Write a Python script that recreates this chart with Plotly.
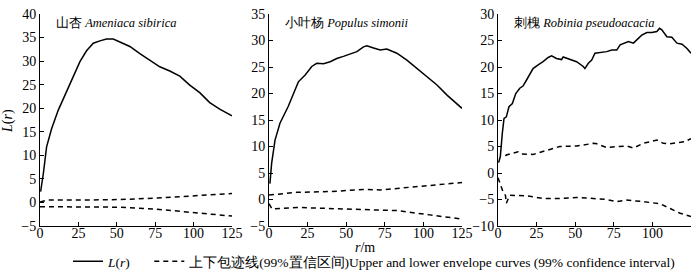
import plotly.graph_objects as go

# ---- data ----
r1 = [0.4, 2.2, 4.3, 7.6, 11.9, 17.3, 21.7, 26, 30.3, 34.7, 39, 43.3, 47.7, 52, 58.5, 65, 71.5, 78, 84.5, 91, 97.5, 104, 110.5, 117, 125]
L1 = [2.3, 6.2, 11.8, 15.7, 19.6, 23.5, 26.7, 29.9, 32.2, 33.8, 34.3, 34.7, 34.7, 34.1, 33.1, 31.6, 30.2, 28.8, 27.9, 26.8, 24.9, 23.3, 21.2, 19.8, 18.4]
env_r1 = [0, 5, 25, 50, 75, 100, 125]
up1 = [0.1, 0.5, 0.5, 0.6, 0.9, 1.4, 1.9]
lo1 = [-0.9, -0.9, -0.9, -1.0, -1.4, -2.1, -2.9]

r2 = [0.6, 1.7, 3.9, 7.1, 12.5, 15.8, 19, 23.4, 27.7, 30.9, 35.3, 39.6, 43.9, 48.2, 52.6, 56.9, 61.2, 63.4, 67.7, 72, 76.3, 82.8, 89.3, 95.8, 102.3, 108.8, 115.3, 125]
L2 = [3.0, 6.8, 11.2, 14.4, 17.6, 20.0, 22.2, 23.5, 25.1, 25.7, 25.6, 26.0, 26.6, 27.0, 27.5, 27.9, 28.8, 29.0, 28.6, 28.2, 28.4, 27.6, 26.3, 24.7, 23.2, 21.6, 19.7, 17.2]
env_r2 = [0, 18, 40, 61, 72, 94, 125]
up2 = [0.85, 1.35, 1.5, 1.9, 1.8, 2.4, 3.2]
env_r2l = [0, 2, 18, 40, 61, 83, 104, 125]
lo2 = [-0.8, -1.8, -1.5, -1.7, -1.9, -2.1, -2.9, -3.7]

r3 = [0.4, 1.5, 2.8, 3.9, 5.4, 7.1, 9.3, 11.5, 14.1, 16.2, 18.4, 20.6, 22.7, 26, 29.2, 32.5, 34.7, 37.9, 41.2, 42.2, 45.5, 47.7, 50.9, 55.2, 56.3, 58.5, 60.7, 62.8, 66.1, 70.4, 73.7, 76.9, 79.1, 82.3, 84.5, 87.7, 89.9, 93.1, 96.4, 99.6, 102.9, 104.6, 106.1, 109.4, 112.6, 115.9, 119.2, 122.4, 125]
L3 = [1.95, 3.1, 7.5, 10.3, 10.6, 12.5, 13.1, 15.0, 16.0, 16.4, 17.5, 18.5, 19.7, 20.4, 21.0, 21.8, 22.1, 21.6, 21.4, 21.9, 21.6, 21.3, 21.0, 20.1, 19.7, 20.7, 21.3, 22.6, 22.7, 22.9, 23.2, 23.2, 24.2, 24.5, 24.8, 24.5, 25.1, 26.0, 26.5, 26.5, 26.7, 27.3, 27.0, 25.7, 25.6, 24.5, 24.3, 23.5, 22.6]
env_r3u = [4.8, 5.4, 13, 15.2, 22.7, 25, 31.4, 40, 51, 62, 64, 70.4, 77, 83.4, 87.7, 94, 103, 107, 110.5, 116, 121, 125]
up3 = [3.2, 3.4, 4.0, 3.6, 3.5, 3.7, 4.3, 5.0, 5.1, 5.6, 5.5, 4.8, 5.0, 5.1, 4.7, 5.6, 6.2, 5.6, 5.5, 5.7, 5.9, 6.5]
env_r3l = [0, 2.2, 3.2, 4.8, 5.4, 7.6, 18.4, 29, 40, 51, 62, 70.4, 77, 83, 94, 105, 111.5, 118, 125]
lo3 = [-0.9, -2.6, -3.5, -4.2, -5.7, -4.2, -4.3, -4.8, -4.8, -4.6, -4.8, -5.0, -5.4, -5.1, -5.4, -5.8, -6.7, -7.6, -8.2]

titles = ["山杏 <i>Ameniaca sibirica</i>", "小叶杨 <i>Populus simonii</i>", "刺槐 <i>Robinia pseudoacacia</i>"]
yranges = [[-5, 40], [-5, 35], [-10, 30]]
xticks = [0, 25, 50, 75, 100, 125]
legend_names = ["<i>L</i>(<i>r</i>)" + "\u00a0" * 4,
                "上下包迹线(99%置信区间)Upper and lower envelope curves (99% confidence interval)"]

FONT = "Liberation Serif"
W, H = 700, 274
xdom = [(40 / W, 232 / W), (269 / W, 462 / W), (498 / W, 691 / W)]
ydom = (48 / H, 260 / H)

fig = go.Figure()
line = dict(color="black", width=1.5)
dline = dict(color="black", width=1.5, dash="5px,4px")

panels = [
    (r1, L1, [(env_r1, up1), (env_r1, lo1)]),
    (r2, L2, [(env_r2, up2), (env_r2l, lo2)]),
    (r3, L3, [(env_r3u, up3), (env_r3l, lo3)]),
]
for i, (rr, LL, envs) in enumerate(panels):
    ax = "" if i == 0 else str(i + 1)
    fig.add_trace(go.Scatter(x=rr, y=LL, mode="lines", line=line, xaxis="x" + ax, yaxis="y" + ax,
                             name=legend_names[0], showlegend=(i == 0), legendgroup="L"))
    for j, (er, ev) in enumerate(envs):
        fig.add_trace(go.Scatter(x=er, y=ev, mode="lines", line=dline, xaxis="x" + ax, yaxis="y" + ax,
                                 name=legend_names[1], showlegend=(i == 0 and j == 0), legendgroup="E"))

axstyle = dict(showline=True, linecolor="black", linewidth=1, ticks="inside", ticklen=4, tickcolor="black",
               showgrid=False, zeroline=False, automargin=False,
               tickfont=dict(family=FONT, size=14, color="black"))
layout = dict(width=W, height=H, margin=dict(l=0, r=0, t=0, b=0, autoexpand=False),
              plot_bgcolor="white", paper_bgcolor="white",
              font=dict(family=FONT, color="black", size=14),
              legend=dict(orientation="h", x=68 / W, xanchor="left", y=28 / H, yanchor="top",
                          font=dict(family=FONT, size=13.5), bgcolor="rgba(0,0,0,0)", itemwidth=30, tracegroupgap=0))
for i in range(3):
    ax = "" if i == 0 else str(i + 1)
    layout["xaxis" + ax] = dict(axstyle, domain=list(xdom[i]), range=[0, 125], tickvals=xticks,
                                anchor="y" + ax, ticklabelstandoff=-6)
    layout["yaxis" + ax] = dict(axstyle, domain=list(ydom), range=yranges[i], dtick=5, anchor="x" + ax)
fig.update_layout(**layout)

for i in range(3):
    fig.add_annotation(x=xdom[i][0] + 14 / W, y=1 - 23 / H, xref="paper", yref="paper", text=titles[i],
                       showarrow=False, xanchor="left", yanchor="middle", font=dict(family=FONT, size=12.5))
fig.add_annotation(x=8 / W, y=1 - 121 / H, xref="paper", yref="paper", text="<i>L</i>(<i>r</i>)", textangle=-90,
                   showarrow=False, xanchor="center", yanchor="middle", font=dict(family=FONT, size=14))
fig.add_annotation(x=365 / W, y=1 - 247 / H, xref="paper", yref="paper", text="<i>r</i>/m",
                   showarrow=False, xanchor="center", yanchor="middle", font=dict(family=FONT, size=14))

fig.write_html("out.html", config={"displayModeBar": False},
               post_script="document.body.style.margin='0';document.body.style.overflow='hidden';")
